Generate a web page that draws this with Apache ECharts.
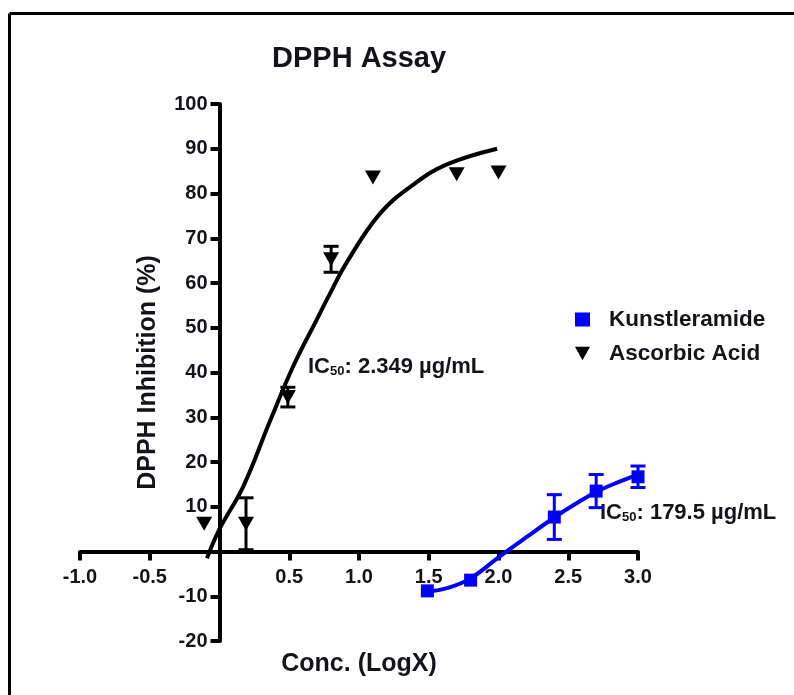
<!DOCTYPE html>
<html><head><meta charset="utf-8">
<script src="https://cdn.jsdelivr.net/npm/echarts@6/dist/echarts.min.js"></script>
<style>html,body{margin:0;padding:0;background:#fff}#c{width:794px;height:695px}</style>
</head><body><div id="c"></div>
<script>
// Measured points (x = log10 concentration, y = % inhibition)
const ascX = [-0.11, 0.19, 0.49, 0.80, 1.10, 1.70, 2.00];
const ascY = [6.2, 6.2, 34.5, 65.3, 83.6, 84.3, 84.7];
const ascErr = [0, 5.8, 2.2, 2.9, 0, 0, 0];
const kunX = [1.49, 1.80, 2.40, 2.70, 3.00];
const kunY = [-8.8, -6.4, 7.7, 13.5, 16.7];
const kunErr = [0, 0, 5.0, 3.7, 2.4];
// Fitted curves
const ascCurveX = [-0.09, 0, 0.17, 0.36, 0.53, 0.70, 0.79, 0.91, 1.15, 1.39, 1.63, 1.99];
const ascCurveY = [-1.5, 5, 14.5, 29, 41.5, 52, 57.5, 64.5, 75.5, 82, 86.5, 90];
const kunCurveX = [1.49, 1.65, 1.80, 2.0, 2.2, 2.4, 2.55, 2.7, 2.85, 3.0];
const kunCurveY = [-9, -8, -6.0, -1.3, 3.2, 7.6, 10.6, 13.3, 15.4, 17.2];
// Axis ranges / ticks
const xMin = -1, xMax = 3, xStep = 0.5;
const yMin = -20, yMax = 100, yStep = 10;
const names = ['Kunstleramide', 'Ascorbic Acid'];
const titleText = 'DPPH Assay';
const xName = 'Conc. (LogX)';
const yName = 'DPPH Inhibition (%)';
const icAsc = '2.349 µg/mL';
const icKun = '179.5 µg/mL';

const BLUE = '#0000ff', BLACK = '#000000', TXT = '#15121c';
const FONT = '"Liberation Sans", Arial, sans-serif';
const TRI = 'path://M0,0L20,0L10,18Z';

const W = 794, H = 695;
const G = { left: 80, right: 156, top: 104, bottom: 54 };
const gw = W - G.left - G.right, gh = H - G.top - G.bottom;
// place each axis on the other's zero
const yOffset = -((0 - xMin) / (xMax - xMin)) * gw;
const xOffset = -((0 - yMin) / (yMax - yMin)) * gh;

const zip = (a, b) => a.map((v, i) => [v, b[i]]);
const errData = (xs, ys, es) => xs.map((x, i) => [x, ys[i] - es[i], ys[i] + es[i]]);

function errRender(color) {
  return function (params, api) {
    const x = api.value(0), lo = api.value(1), hi = api.value(2);
    if (hi === lo) return null;
    const t = api.coord([x, hi]), b = api.coord([x, lo]);
    const w = 7.5;
    const st = { stroke: color, lineWidth: 3 };
    return { type: 'group', children: [
      { type: 'line', shape: { x1: t[0], y1: t[1], x2: b[0], y2: b[1] }, style: st },
      { type: 'line', shape: { x1: t[0] - w, y1: t[1], x2: t[0] + w, y2: t[1] }, style: st },
      { type: 'line', shape: { x1: b[0] - w, y1: b[1], x2: b[0] + w, y2: b[1] }, style: st }
    ]};
  };
}

const chart = echarts.init(document.getElementById('c'), null, { renderer: 'canvas' });
const axisCommon = {
  type: 'value',
  splitLine: { show: false },
  axisLine: { show: true, onZero: false, lineStyle: { color: BLACK, width: 4 } },
  axisTick: { show: true, length: 9, lineStyle: { color: BLACK, width: 4 } },
  nameLocation: 'middle',
  nameTextStyle: { fontFamily: FONT, fontWeight: 'bold', fontSize: 25, color: TXT }
};
const richIC = {
  a: { fontFamily: FONT, fontWeight: 'bold', fontSize: 22, fill: TXT, lineHeight: 22, verticalAlign: 'bottom' },
  s: { fontFamily: FONT, fontWeight: 'bold', fontSize: 13, fill: TXT, lineHeight: 12, verticalAlign: 'bottom' }
};
chart.setOption({
  animation: false,
  backgroundColor: '#fff',
  title: { text: titleText, left: 267, top: 39,
    textStyle: { fontFamily: FONT, fontWeight: 'bold', fontSize: 29, color: TXT } },
  grid: Object.assign({ containLabel: false, outerBoundsMode: 'none' }, G),
  xAxis: Object.assign({}, axisCommon, {
    min: xMin, max: xMax, interval: xStep, name: xName, nameGap: 100, offset: xOffset,
    axisLabel: { margin: 16, fontFamily: FONT, fontWeight: 'bold', fontSize: 20, color: TXT,
      formatter: v => (Math.abs(v) < 1e-9 ? '' : v.toFixed(1)) }
  }),
  yAxis: Object.assign({}, axisCommon, {
    min: yMin, max: yMax, interval: yStep, name: yName, nameGap: 59, offset: yOffset,
    axisLabel: { margin: 12, fontFamily: FONT, fontWeight: 'bold', fontSize: 20, color: TXT,
      formatter: v => (v === 0 ? '' : String(v)) }
  }),
  legend: {
    orient: 'vertical', left: 570, top: 303, itemWidth: 15, itemHeight: 14, itemGap: 11,
    textStyle: { fontFamily: FONT, fontWeight: 'bold', fontSize: 22.5, color: TXT, padding: [0, 0, 0, 14] },
    data: [{ name: names[0], icon: 'rect' }, { name: names[1], icon: TRI }]
  },
  series: [
    { type: 'line', name: 'fitAsc', data: zip(ascCurveX, ascCurveY), smooth: 0.4, showSymbol: false,
      lineStyle: { color: BLACK, width: 4 }, z: 2, silent: true },
    { type: 'line', name: 'fitKun', data: zip(kunCurveX, kunCurveY), smooth: 0.4, showSymbol: false,
      lineStyle: { color: BLUE, width: 4 }, z: 2, silent: true },
    { type: 'custom', name: 'errAsc', data: errData(ascX, ascY, ascErr), renderItem: errRender(BLACK),
      encode: { x: 0, y: [1, 2] }, z: 3, silent: true },
    { type: 'custom', name: 'errKun', data: errData(kunX, kunY, kunErr), renderItem: errRender(BLUE),
      encode: { x: 0, y: [1, 2] }, z: 3, silent: true },
    { type: 'scatter', name: names[0], data: zip(kunX, kunY), symbol: 'rect', symbolSize: 13,
      itemStyle: { color: BLUE, opacity: 1 }, z: 4 },
    { type: 'scatter', name: names[1], data: zip(ascX, ascY), symbol: TRI, symbolSize: [16, 14],
      itemStyle: { color: BLACK, opacity: 1 }, z: 4 }
  ],
  graphic: [
    { type: 'line', shape: { x1: 9.5, y1: 13.5, x2: 794, y2: 13.5 }, style: { stroke: '#000', lineWidth: 3 } },
    { type: 'line', shape: { x1: 9.5, y1: 13.5, x2: 9.5, y2: 695 }, style: { stroke: '#000', lineWidth: 3 } },
    { type: 'text', left: 308, top: 356, style: { text: '{a|IC}{s|50}{a|: ' + icAsc + '}', rich: richIC } },
    { type: 'text', left: 600, top: 502, style: { text: '{a|IC}{s|50}{a|: ' + icKun + '}', rich: richIC } }
  ]
});
</script></body></html>
